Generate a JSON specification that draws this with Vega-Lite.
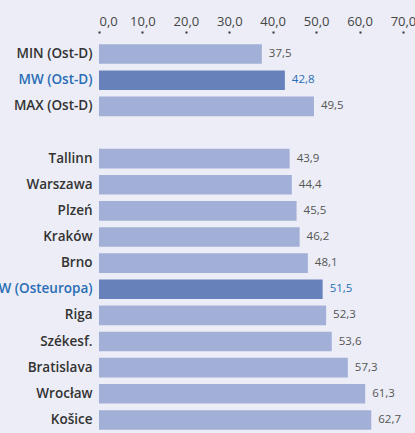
{
  "$schema": "https://vega.github.io/schema/vega-lite/v6.json",
  "autosize": "none",
  "width": 316,
  "height": 392,
  "padding": {"left": 99, "top": 41, "right": 0, "bottom": 0},
  "background": "#ecedf6",
  "config": {
    "view": {"stroke": null},
    "locale": {"number": {"decimal": ",", "thousands": ".", "grouping": [3], "currency": ["", " €"]}},
    "font": "Open Sans"
  },
  "data": {
    "values": [
      {"name": "MIN (Ost-D)", "value": 37.5, "hl": "n"},
      {"name": "MW (Ost-D)", "value": 42.8, "hl": "h"},
      {"name": "MAX (Ost-D)", "value": 49.5, "hl": "n"},
      {"name": "Tallinn", "value": 43.9, "hl": "n"},
      {"name": "Warszawa", "value": 44.4, "hl": "n"},
      {"name": "Plzeń", "value": 45.5, "hl": "n"},
      {"name": "Kraków", "value": 46.2, "hl": "n"},
      {"name": "Brno", "value": 48.1, "hl": "n"},
      {"name": "MW (Osteuropa)", "value": 51.5, "hl": "h"},
      {"name": "Riga", "value": 52.3, "hl": "n"},
      {"name": "Székesf.", "value": 53.6, "hl": "n"},
      {"name": "Bratislava", "value": 57.3, "hl": "n"},
      {"name": "Wrocław", "value": 61.3, "hl": "n"},
      {"name": "Košice", "value": 62.7, "hl": "n"}
    ]
  },
  "encoding": {
    "y": {
      "field": "name",
      "type": "nominal",
      "sort": null,
      "scale": {
        "domain": ["MIN (Ost-D)", "MW (Ost-D)", "MAX (Ost-D)", " ", "Tallinn", "Warszawa", "Plzeń", "Kraków", "Brno", "MW (Osteuropa)", "Riga", "Székesf.", "Bratislava", "Wrocław", "Košice"],
        "paddingInner": 0.25,
        "paddingOuter": 0.125
      },
      "axis": {
        "title": null,
        "domain": false,
        "ticks": false,
        "labelPadding": 7,
        "labelFontSize": 13.5,
        "labelFontWeight": 600,
        "labelColor": {"condition": {"test": "datum.value === 'MW (Ost-D)' || datum.value === 'MW (Osteuropa)'", "value": "#2a6db5"}, "value": "#333333"}
      }
    },
    "x": {
      "field": "value",
      "type": "quantitative",
      "scale": {"domain": [0, 72.77], "nice": false},
      "axis": {
        "orient": "top",
        "title": null,
        "values": [0, 10, 20, 30, 40, 50, 60, 70],
        "format": ".1f",
        "grid": false,
        "domain": false,
        "tickSize": 2,
        "tickWidth": 2,
        "tickColor": "#333333",
        "offset": 8,
        "labelPadding": 3,
        "labelFontSize": 13,
        "labelColor": "#444444"
      }
    }
  },
  "layer": [
    {
      "mark": {"type": "bar"},
      "encoding": {
        "color": {
          "field": "hl",
          "type": "nominal",
          "scale": {"domain": ["n", "h"], "range": ["#a2afd6", "#6781bb"]},
          "legend": null
        }
      }
    },
    {
      "mark": {"type": "text", "align": "left", "dx": 7, "fontSize": 11.5},
      "encoding": {
        "text": {"field": "value", "type": "quantitative", "format": ".1f"},
        "color": {
          "condition": {"test": "datum.hl === 'h'", "value": "#2a6db5"},
          "value": "#555555"
        }
      }
    }
  ]
}
